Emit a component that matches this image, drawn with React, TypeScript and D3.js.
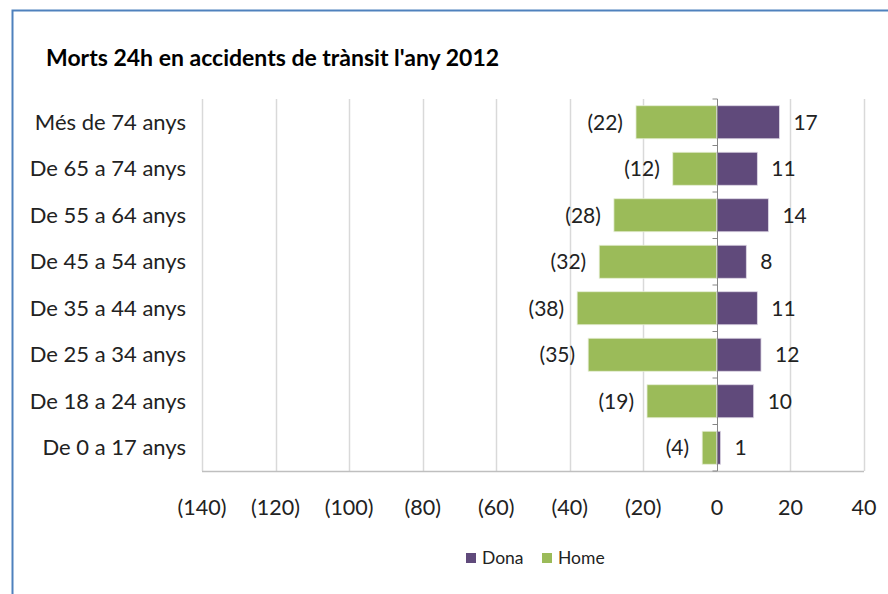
import React, { useEffect, useRef } from "react";
import * as d3 from "d3";

const categories = [
  "Més de 74 anys",
  "De 65 a 74 anys",
  "De 55 a 64 anys",
  "De 45 a 54 anys",
  "De 35 a 44 anys",
  "De 25 a 34 anys",
  "De 18 a 24 anys",
  "De 0 a 17 anys"
];
const dona = [17, 11, 14, 8, 11, 12, 10, 1];
const home = [22, 12, 28, 32, 38, 35, 19, 4];
const xTicks = [-140, -120, -100, -80, -60, -40, -20, 0, 20, 40];

const FONT = "Lato, 'Liberation Sans', sans-serif";

function App() {
  const ref = useRef<SVGSVGElement>(null);

  useEffect(() => {
    const svg = d3.select(ref.current);
    svg.selectAll("*").remove();

    const left = 202,
      right = 864,
      top = 99,
      bottom = 471;

    const x = d3.scaleLinear().domain([-140, 40]).range([left, right]);
    const y = d3
      .scaleBand()
      .domain(categories)
      .range([top, bottom])
      .paddingInner(0.29)
      .paddingOuter(0.145);

    // outer frame
    svg
      .append("rect")
      .attr("x", 12.5)
      .attr("y", 10.5)
      .attr("width", 900)
      .attr("height", 600)
      .attr("fill", "white")
      .attr("stroke", "#4f81bd")
      .attr("stroke-width", 2);

    svg
      .append("text")
      .attr("x", 46)
      .attr("y", 66)
      .attr("font-family", FONT)
      .attr("font-weight", "bold")
      .attr("font-size", "23px")
      .attr("fill", "#000")
      .text("Morts 24h en accidents de trànsit l'any 2012");

    const g = svg.append("g");

    // gridlines
    g.selectAll("line.grid")
      .data(xTicks.filter(d => d !== 0))
      .enter()
      .append("line")
      .attr("class", "grid")
      .attr("x1", d => Math.round(x(d)) + 0.5)
      .attr("x2", d => Math.round(x(d)) + 0.5)
      .attr("y1", top)
      .attr("y2", bottom)
      .attr("stroke", "#d9d9d9")
      .attr("stroke-width", 1.5);

    // bottom axis line
    g.append("line")
      .attr("x1", left)
      .attr("x2", right)
      .attr("y1", bottom + 0.5)
      .attr("y2", bottom + 0.5)
      .attr("stroke", "#bfbfbf")
      .attr("stroke-width", 1.5);

    // bars
    g.selectAll("rect.home")
      .data(categories)
      .enter()
      .append("rect")
      .attr("class", "home")
      .attr("x", (d, i) => x(-home[i]))
      .attr("y", d => y(d)!)
      .attr("width", (d, i) => x(0) - x(-home[i]))
      .attr("height", y.bandwidth())
      .attr("fill", "#9bbb59")
      .attr("stroke", "#e6eed6")
      .attr("stroke-width", 0.8);

    g.selectAll("rect.dona")
      .data(categories)
      .enter()
      .append("rect")
      .attr("class", "dona")
      .attr("x", x(0))
      .attr("y", d => y(d)!)
      .attr("width", (d, i) => x(dona[i]) - x(0))
      .attr("height", y.bandwidth())
      .attr("fill", "#604a7b")
      .attr("stroke", "#dcd6e4")
      .attr("stroke-width", 0.8);

    // zero axis with ticks
    const x0 = Math.round(x(0)) + 0.5;
    g.append("line")
      .attr("x1", x0)
      .attr("x2", x0)
      .attr("y1", top)
      .attr("y2", bottom)
      .attr("stroke", "#868686")
      .attr("stroke-width", 1);
    const step = (bottom - top) / categories.length;
    g.selectAll("line.ytick")
      .data(d3.range(categories.length + 1))
      .enter()
      .append("line")
      .attr("class", "ytick")
      .attr("x1", x0 - 5)
      .attr("x2", x0)
      .attr("y1", d => top + d * step)
      .attr("y2", d => top + d * step)
      .attr("stroke", "#868686");

    // value labels
    g.selectAll("text.hl")
      .data(categories)
      .enter()
      .append("text")
      .attr("class", "hl")
      .attr("x", (d, i) => x(-home[i]) - 13)
      .attr("y", d => y(d)! + y.bandwidth() / 2)
      .attr("dy", "0.35em")
      .attr("text-anchor", "end")
      .attr("font-family", FONT)
      .attr("font-size", "21px")
      .attr("fill", "#222")
      .text((d, i) => `(${home[i]})`);

    g.selectAll("text.dl")
      .data(categories)
      .enter()
      .append("text")
      .attr("class", "dl")
      .attr("x", (d, i) => x(dona[i]) + 14)
      .attr("y", d => y(d)! + y.bandwidth() / 2)
      .attr("dy", "0.35em")
      .attr("font-family", FONT)
      .attr("font-size", "21px")
      .attr("fill", "#222")
      .text((d, i) => `${dona[i]}`);

    // category labels
    g.selectAll("text.cat")
      .data(categories)
      .enter()
      .append("text")
      .attr("class", "cat")
      .attr("x", 186)
      .attr("y", d => y(d)! + y.bandwidth() / 2)
      .attr("dy", "0.35em")
      .attr("text-anchor", "end")
      .attr("font-family", FONT)
      .attr("font-size", "22px")
      .attr("fill", "#222")
      .text(d => d);

    // x tick labels
    g.selectAll("text.xt")
      .data(xTicks)
      .enter()
      .append("text")
      .attr("class", "xt")
      .attr("x", d => x(d))
      .attr("y", 515)
      .attr("text-anchor", "middle")
      .attr("font-family", FONT)
      .attr("font-size", "21.5px")
      .attr("fill", "#222")
      .text(d => (d < 0 ? `(${-d})` : `${d}`));

    // legend
    const legend = [
      { name: "Dona", color: "#604a7b", x: 466 },
      { name: "Home", color: "#9bbb59", x: 542 }
    ];
    const lg = svg
      .selectAll("g.legend")
      .data(legend)
      .enter()
      .append("g")
      .attr("class", "legend")
      .attr("transform", d => `translate(${d.x},553)`);
    lg.append("rect")
      .attr("width", 10)
      .attr("height", 10)
      .attr("fill", d => d.color);
    lg.append("text")
      .attr("x", 16)
      .attr("y", 5)
      .attr("dy", "0.35em")
      .attr("font-family", FONT)
      .attr("font-size", "17.5px")
      .attr("fill", "#222")
      .text(d => d.name);
  }, []);

  return (
    <svg
      ref={ref}
      width={888}
      height={594}
      style={{ position: "absolute", left: 0, top: 0, background: "white" }}
    />
  );
}

export default App;
